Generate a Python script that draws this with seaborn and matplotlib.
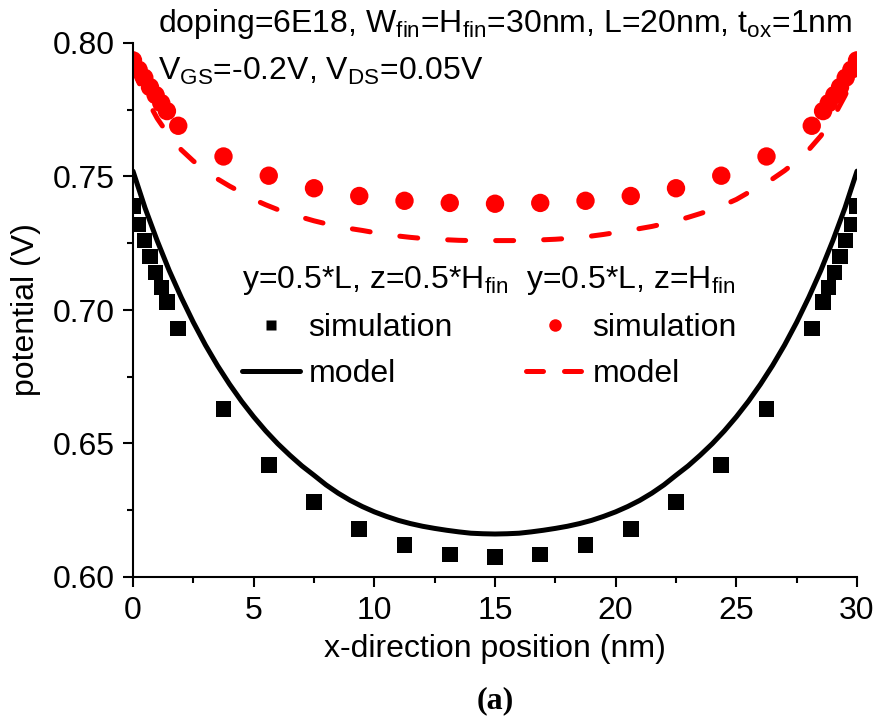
import matplotlib
matplotlib.use("Agg")
import matplotlib.pyplot as plt
from matplotlib.lines import Line2D
from matplotlib.ticker import MultipleLocator, FormatStrFormatter
import seaborn as sns
import pandas as pd
import numpy as np

# ---------------- data ----------------
x_sim = [0, 0.234, 0.469, 0.703, 0.938, 1.172, 1.406, 1.875, 3.75, 5.625, 7.5,
         9.375, 11.25, 13.125, 15, 16.875, 18.75, 20.625, 22.5, 24.375, 26.25,
         28.125, 28.594, 28.828, 29.062, 29.297, 29.531, 29.766, 30]
sim_mid = [0.739, 0.732, 0.726, 0.720, 0.714, 0.7085, 0.703, 0.693, 0.663, 0.642, 0.628,
           0.618, 0.612, 0.6085, 0.6075, 0.6085, 0.612, 0.618, 0.628, 0.642, 0.663,
           0.693, 0.703, 0.7085, 0.714, 0.720, 0.726, 0.732, 0.739]
sim_top = [0.7935, 0.790, 0.787, 0.7835, 0.7805, 0.7775, 0.7745, 0.769, 0.7575, 0.7503, 0.7456,
           0.7427, 0.7409, 0.7401, 0.7398, 0.7401, 0.7409, 0.7427, 0.7456, 0.7503, 0.7575,
           0.769, 0.7745, 0.7775, 0.7805, 0.7835, 0.787, 0.790, 0.7935]

x_model = [0, 0.5, 1, 1.5, 2, 2.5, 3, 3.5, 4, 4.5, 5, 5.5, 6, 6.5, 7, 7.5, 8, 8.5, 9, 9.5,
           10, 10.5, 11, 11.5, 12, 12.5, 13, 13.5, 14, 14.5, 15, 15.5, 16, 16.5, 17, 17.5,
           18, 18.5, 19, 19.5, 20, 20.5, 21, 21.5, 22, 22.5, 23, 23.5, 24, 24.5, 25, 25.5,
           26, 26.5, 27, 27.5, 28, 28.5, 29, 29.5, 30]
model_mid = [0.752, 0.7382, 0.7260, 0.7148, 0.7047, 0.6954, 0.6869, 0.6792, 0.6722, 0.6658,
             0.6600, 0.6547, 0.6499, 0.6456, 0.6416, 0.6381, 0.6345, 0.6314, 0.6287, 0.6264,
             0.6244, 0.6227, 0.6212, 0.6200, 0.6190, 0.6182, 0.6175, 0.6169, 0.6164, 0.6162,
             0.6161,
             0.6162, 0.6164, 0.6169, 0.6175, 0.6182, 0.6190, 0.6200, 0.6212, 0.6227, 0.6244,
             0.6264, 0.6287, 0.6314, 0.6345, 0.6381, 0.6416, 0.6456, 0.6499, 0.6547, 0.6600,
             0.6658, 0.6722, 0.6792, 0.6869, 0.6954, 0.7047, 0.7148, 0.7260, 0.7382, 0.752]
model_top = [0.790, 0.7802, 0.7718, 0.7652, 0.7600, 0.7558, 0.7522, 0.7491, 0.7464, 0.7440,
             0.7414, 0.7394, 0.7376, 0.7361, 0.7347, 0.7334, 0.7323, 0.7313, 0.7305, 0.7298,
             0.7290, 0.7283, 0.7277, 0.7272, 0.7268, 0.7265, 0.7263, 0.7261, 0.7260, 0.7260,
             0.7260,
             0.7260, 0.7260, 0.7261, 0.7263, 0.7265, 0.7268, 0.7272, 0.7277, 0.7283, 0.7290,
             0.7298, 0.7305, 0.7313, 0.7323, 0.7334, 0.7347, 0.7361, 0.7376, 0.7394, 0.7414,
             0.7440, 0.7464, 0.7491, 0.7522, 0.7558, 0.7600, 0.7652, 0.7718, 0.7802, 0.790]

x_ticks = [0, 5, 10, 15, 20, 25, 30]
y_ticks = [0.60, 0.65, 0.70, 0.75, 0.80]

title1 = r"y=0.5*L, z=0.5*H$_{\rm fin}$"
title2 = r"y=0.5*L, z=H$_{\rm fin}$"
note1 = r"doping=6E18, W$_{\rm fin}$=H$_{\rm fin}$=30nm, L=20nm, t$_{\rm ox}$=1nm"
note2 = r"V$_{\rm GS}$=-0.2V, V$_{\rm DS}$=0.05V"

# ---------------- style ----------------
sns.set_style("ticks")
plt.rcParams['font.family'] = ['Liberation Sans', 'DejaVu Sans']
plt.rcParams['mathtext.fontset'] = 'custom'
plt.rcParams['mathtext.rm'] = 'Liberation Sans'
plt.rcParams['mathtext.it'] = 'Liberation Sans:italic'
plt.rcParams['mathtext.bf'] = 'Liberation Sans:bold'
for k in ['text.color', 'axes.labelcolor', 'xtick.color', 'ytick.color', 'axes.edgecolor']:
    plt.rcParams[k] = 'black'
FS = 23
LW = 3.6

sim_df = pd.DataFrame({"x": x_sim, "mid": sim_mid, "top": sim_top})
mod_df = pd.DataFrame({"x": x_model, "mid": model_mid, "top": model_top})

fig = plt.figure(figsize=(8.82, 7.18), dpi=100)
ax = fig.add_axes([133 / 882, 1 - 577 / 718, (857 - 133) / 882, (577 - 43) / 718])
ax.set_xlim(0, 30)
ax.set_ylim(0.60, 0.80)

sns.lineplot(data=mod_df, x="x", y="mid", ax=ax, color="black", lw=LW, sort=False)
sns.lineplot(data=mod_df, x="x", y="top", ax=ax, color="red", lw=LW, sort=False)
red_line = ax.lines[-1]

# dash phase so that one dash is centred near x = 15.4 as in the reference
pts = ax.transData.transform(np.column_stack([x_model, model_top]))
seg = np.hypot(np.diff(pts[:, 0]), np.diff(pts[:, 1]))
cum = np.concatenate([[0], np.cumsum(seg)])
lw_px = LW * 100 / 72
on_u, off_u = 3.6, 6.0
period = (on_u + off_u) * lw_px
s_c = np.interp(15.4, x_model, cum)
s0 = s_c - on_u * lw_px / 2
offset = ((-s0) % period) / lw_px
red_line.set_linestyle((offset, (on_u, off_u)))
red_line.set_dash_capstyle("round")

sns.scatterplot(data=sim_df, x="x", y="mid", ax=ax, color="black", marker="s", s=125,
                edgecolor="none", linewidth=0)
sns.scatterplot(data=sim_df, x="x", y="top", ax=ax, color="red", marker="o", s=175,
                edgecolor="none", linewidth=0)

ax.set_xlim(0, 30)
ax.set_ylim(0.60, 0.80)
ax.set_xticks(x_ticks)
ax.set_yticks(y_ticks)
ax.xaxis.set_minor_locator(MultipleLocator(2.5))
ax.yaxis.set_minor_locator(MultipleLocator(0.025))
ax.yaxis.set_major_formatter(FormatStrFormatter("%.2f"))
ax.tick_params(which="major", length=7.5, width=1.5, labelsize=FS, direction="out", pad=6)
ax.tick_params(which="minor", length=4, width=1.5, direction="out")
for s in ["left", "bottom"]:
    ax.spines[s].set_linewidth(1.5)
sns.despine(ax=ax)
ax.set_xlabel("x-direction position (nm)", fontsize=FS, labelpad=6)
ax.set_ylabel("potential (V)", fontsize=FS, labelpad=8)

# legends
h_sq = Line2D([], [], color="black", marker="s", ls="none", ms=7.5, mec="none")
h_bl = Line2D([], [], color="black", lw=LW)
h_dot = Line2D([], [], color="red", marker="o", ls="none", ms=9, mec="none")
h_rd = Line2D([], [], color="red", lw=LW, ls=(0, (3.4, 4.2)), dash_capstyle="round")

leg_kw = dict(frameon=False, fontsize=FS, title_fontsize=FS, handlelength=1.8,
              handletextpad=0.28, labelspacing=0.5, borderpad=0, borderaxespad=0,
              alignment="left", loc="upper left", bbox_transform=fig.transFigure)
leg1 = ax.legend([h_sq, h_bl], ["simulation", "model"], title=title1,
                 bbox_to_anchor=(242 / 882, 1 - 264 / 718), **leg_kw)
ax.add_artist(leg1)
leg2 = ax.legend([h_dot, h_rd], ["simulation", "model"], title=title2,
                 bbox_to_anchor=(526 / 882, 1 - 264 / 718), **leg_kw)

fig.text(158 / 882, 1 - 32 / 718, note1, fontsize=FS, va="baseline", ha="left")
fig.text(158 / 882, 1 - 80 / 718, note2, fontsize=FS, va="baseline", ha="left")
fig.text(495 / 882, 1 - 708 / 718, "(a)", fontsize=FS, fontweight="bold",
         family="Liberation Serif", va="baseline", ha="center")

fig.savefig("out.png", dpi=100)
